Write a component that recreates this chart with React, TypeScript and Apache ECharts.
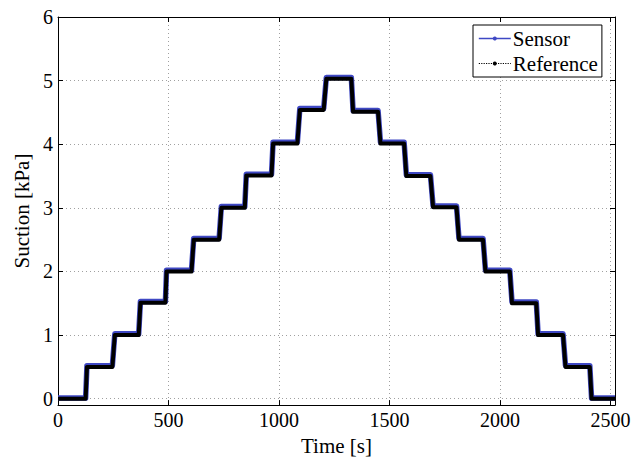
import React, { useEffect, useRef } from "react";
import * as echarts from "echarts";

// Corner points of the step sequence (time in s)
const times = [0, 125, 131, 246, 257, 365, 373, 486, 491, 604, 614, 729, 739, 845, 852, 966, 973, 1083, 1094, 1202, 1214, 1327, 1335, 1448, 1459, 1566, 1576, 1685, 1697, 1803, 1814, 1923, 1934, 2044, 2054, 2164, 2172, 2285, 2296, 2406, 2414, 2520];
const sensorValues = [0.01, 0.01, 0.52, 0.52, 1.02, 1.02, 1.53, 1.53, 2.02, 2.02, 2.52, 2.52, 3.02, 3.02, 3.53, 3.53, 4.03, 4.03, 4.56, 4.56, 5.05, 5.05, 4.53, 4.53, 4.03, 4.03, 3.52, 3.52, 3.03, 3.03, 2.52, 2.52, 2.02, 2.02, 1.52, 1.52, 1.02, 1.02, 0.52, 0.52, 0.01, 0.01];
const referenceValues = [0, 0, 0.5, 0.5, 1.0, 1.0, 1.51, 1.51, 2.0, 2.0, 2.5, 2.5, 3.0, 3.0, 3.51, 3.51, 4.01, 4.01, 4.54, 4.54, 5.03, 5.03, 4.51, 4.51, 4.01, 4.01, 3.5, 3.5, 3.01, 3.01, 2.5, 2.5, 2.0, 2.0, 1.5, 1.5, 1.0, 1.0, 0.5, 0.5, 0, 0];
const seriesNames = ["Sensor", "Reference"];
const xTitle = "Time [s]";
const yTitle = "Suction [kPa]";

const FONT = '"Liberation Serif", "Times New Roman", serif';
const BLUE = "#3f48c4";

export default function App() {
  const ref = useRef<HTMLDivElement>(null);
  useEffect(() => {
    if (!ref.current) return;
    const chart = echarts.init(ref.current, undefined, { renderer: "svg" });
    const grid = { left: 58, right: 27, top: 17, bottom: 54 };
    const gridLine = { show: true, lineStyle: { color: "#a0a0a0", type: [1, 3] as any, width: 1 } };
    const axisLine = { show: true, onZero: false, lineStyle: { color: "#000", width: 1 } };
    const tick = { show: true, inside: true, length: 5, lineStyle: { color: "#000" } };
    const fmt = (v: number) => String(v);
    chart.setOption({
      animation: false,
      backgroundColor: "#fff",
      grid,
      legend: {
        orient: "vertical",
        left: 473,
        top: 25,
        backgroundColor: "#fff",
        borderColor: "#000",
        borderWidth: 1,
        borderRadius: 0,
        padding: [3, 4, 3, 5],
        itemGap: 4,
        itemWidth: 32,
        itemHeight: 5,
        textStyle: { fontFamily: FONT, fontSize: 21, color: "#000", padding: [0, 0, 0, -3] },
        data: [
          { name: seriesNames[0], lineStyle: { width: 1.6, type: "solid", color: BLUE }, itemStyle: { color: BLUE } },
          { name: seriesNames[1], lineStyle: { width: 1.2, type: "dotted", color: "#000" }, itemStyle: { color: "#000" } },
        ],
      },
      xAxis: [
        {
          type: "value",
          min: 0,
          max: 2520,
          interval: 500,
          name: xTitle,
          nameLocation: "middle",
          nameGap: 28,
          nameTextStyle: { fontFamily: FONT, fontSize: 21, color: "#000" },
          axisLine,
          axisTick: tick,
          splitLine: gridLine,
          axisLabel: { fontFamily: FONT, fontSize: 20, color: "#000", margin: 5, showMaxLabel: false, formatter: fmt },
        },
        {
          type: "value",
          position: "top",
          min: 0,
          max: 2520,
          interval: 500,
          axisLine,
          axisTick: tick,
          splitLine: { show: false },
          axisLabel: { show: false },
        },
      ],
      yAxis: [
        {
          type: "value",
          min: -0.1,
          max: 6,
          splitNumber: 6,
          name: yTitle,
          nameLocation: "middle",
          nameGap: 26,
          nameTextStyle: { fontFamily: FONT, fontSize: 21, color: "#000" },
          axisLine,
          axisTick: tick,
          splitLine: gridLine,
          axisLabel: { fontFamily: FONT, fontSize: 20, color: "#000", margin: 5, showMinLabel: false, formatter: fmt },
        },
        {
          type: "value",
          position: "right",
          min: -0.1,
          max: 6,
          splitNumber: 6,
          axisLine,
          axisTick: tick,
          splitLine: { show: false },
          axisLabel: { show: false },
        },
      ],
      series: [
        {
          name: seriesNames[0],
          type: "line",
          data: times.map((t, i) => [t, sensorValues[i]]),
          symbol: "circle",
          symbolSize: 4,
          showSymbol: false,
          color: BLUE,
          lineStyle: { color: BLUE, width: 5.5, join: "round" },
          z: 2,
        },
        {
          name: seriesNames[1],
          type: "line",
          data: times.map((t, i) => [t, referenceValues[i]]),
          symbol: "circle",
          symbolSize: 4,
          showSymbol: false,
          color: "#000",
          lineStyle: { color: "#000", width: 4, join: "round" },
          z: 3,
        },
      ],
    });
    return () => chart.dispose();
  }, []);
  return <div ref={ref} style={{ width: 642, height: 461, position: "absolute", left: 0, top: 0 }} />;
}
